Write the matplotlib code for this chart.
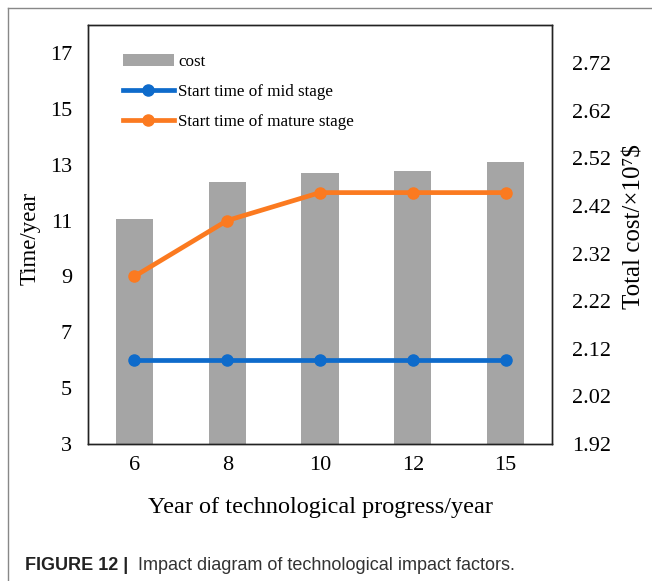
import matplotlib
matplotlib.use("Agg")
import matplotlib.pyplot as plt
from matplotlib.lines import Line2D
from matplotlib.patches import Patch

categories = ["6", "8", "10", "12", "15"]
cost = [2.393, 2.470, 2.489, 2.494, 2.512]
mid_stage = [6, 6, 6, 6, 6]
mature_stage = [9, 11, 12, 12, 12]
left_ticks = [3, 5, 7, 9, 11, 13, 15, 17]
right_ticks = [1.92, 2.02, 2.12, 2.22, 2.32, 2.42, 2.52, 2.62, 2.72]

serif = ["Liberation Serif", "DejaVu Serif"]
W, H = 652, 581
fig = plt.figure(figsize=(W / 100, H / 100), dpi=100)
fig.patch.set_facecolor("white")

ax = fig.add_axes([88 / W, 1 - 444 / H, (552 - 88) / W, (444 - 25) / H])
ax2 = ax.twinx()
ax.set_zorder(ax2.get_zorder() + 1)
ax.patch.set_visible(False)

x = list(range(len(categories)))
ax2.bar(x, [c - 1.92 for c in cost], bottom=1.92, width=0.4, color="#A5A5A5", zorder=1)
ax2.set_ylim(1.92, 2.80)
ax2.set_yticks(right_ticks)
ax2.set_yticklabels([f"{t:.2f}" for t in right_ticks], fontfamily=serif, fontsize=16)

ax.plot(x, mid_stage, color="#0E6BCB", lw=3.4, marker="o", ms=8, zorder=3)
ax.plot(x, mature_stage, color="#FB7A20", lw=3.4, marker="o", ms=8, zorder=3)
ax.set_ylim(3, 18)
ax.set_yticks(left_ticks)
ax.set_yticklabels([str(t) for t in left_ticks], fontfamily=serif, fontsize=16)
ax.set_xlim(-0.5, len(categories) - 0.5)
ax.set_xticks(x)
ax.set_xticklabels(categories, fontfamily=serif, fontsize=16)

for a in (ax, ax2):
    a.tick_params(length=0)
    for s in a.spines.values():
        s.set_linewidth(1.0)
        s.set_color("#222222")
ax.tick_params(axis="y", pad=11.5)
ax2.tick_params(axis="y", pad=14.4)
ax.tick_params(axis="x", pad=8.5)

ax.set_ylabel("Time/year", fontfamily=serif, fontsize=16.5)
ax.yaxis.set_label_coords((30 - 88) / (552 - 88), (444 - 238) / (444 - 25))
ax.yaxis.label.set_verticalalignment("center")
ax2.set_ylabel("Total cost/\u00d710\u2077$", fontfamily=serif, fontsize=18, rotation=90)
ax2.yaxis.set_label_coords((635 - 88) / (552 - 88), (444 - 227) / (444 - 25))
ax2.yaxis.label.set_verticalalignment("center")
ax.set_xlabel("Year of technological progress/year", fontfamily=serif, fontsize=17.5)
ax.xaxis.set_label_coords(0.5, (444 - 507) / (444 - 25))
ax.xaxis.label.set_verticalalignment("center")

handles = [
    Patch(facecolor="#A5A5A5", edgecolor="none"),
    Line2D([], [], color="#0E6BCB", lw=3.4, marker="o", ms=8),
    Line2D([], [], color="#FB7A20", lw=3.4, marker="o", ms=8),
]
labels = ["cost", "Start time of mid stage", "Start time of mature stage"]
ax.legend(handles, labels, loc="upper left", bbox_to_anchor=(0.075, 0.93), frameon=False,
          prop={"family": serif, "size": 12.25}, handlelength=3.0, handletextpad=0.25,
          labelspacing=0.8, borderaxespad=0.0, borderpad=0.0)

# outer frame lines
fig.add_artist(Line2D([8 / W, 1.0], [1 - 8 / H, 1 - 8 / H], color="#888888", lw=1.0))
fig.add_artist(Line2D([8 / W, 8 / W], [0, 1 - 8 / H], color="#888888", lw=1.0))

# caption
fig.text(25 / W, 1 - 565 / H, "FIGURE 12 |", fontfamily="Liberation Sans", fontweight="bold",
         fontsize=13, color="#222222", va="center", ha="left")
fig.text(138 / W, 1 - 565 / H, "Impact diagram of technological impact factors.",
         fontfamily="Liberation Sans", fontsize=13, color="#333333", va="center", ha="left")

fig.savefig("out.png", dpi=100, facecolor="white")
